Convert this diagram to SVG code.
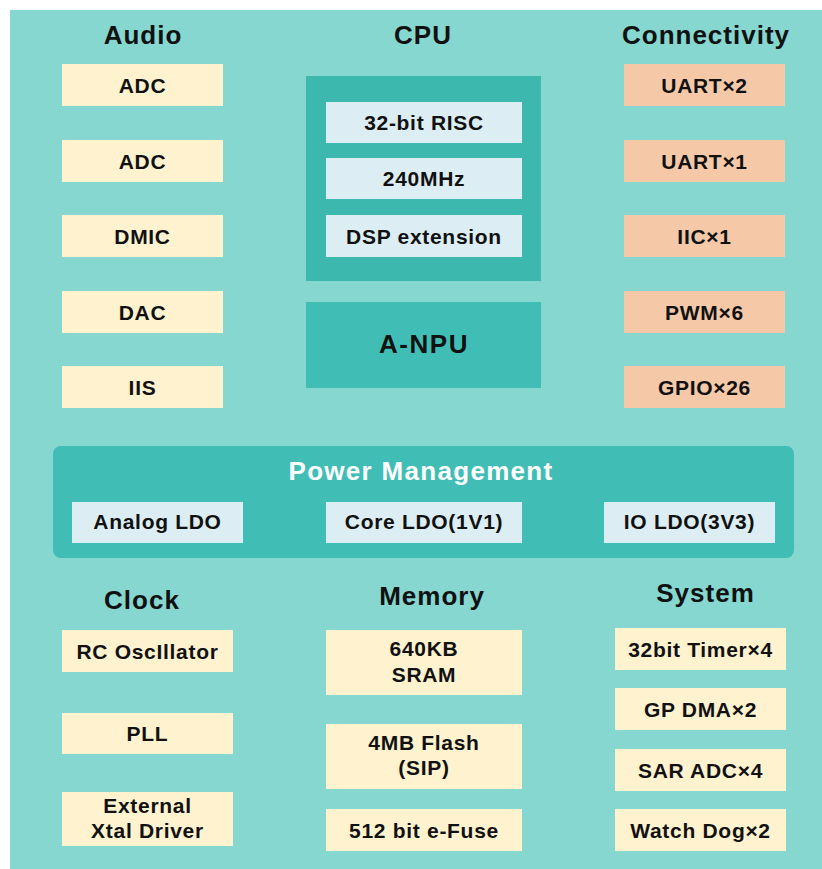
<svg xmlns="http://www.w3.org/2000/svg" width="822" height="869" viewBox="0 0 822 869">
<style>
text{font-family:"Liberation Sans",Arial,sans-serif;font-weight:bold;text-anchor:middle;fill:#111}
.t{font-size:26px;letter-spacing:1px}
.l{font-size:21px;letter-spacing:0.7px}
.y{fill:#FFF2CF}
.o{fill:#F5C9A8}
.b{fill:#DCEEF4}
</style>
<rect x="0" y="0" width="822" height="869" fill="#FFFFFF"/>
<rect x="10" y="10" width="812" height="859" fill="#85D7D0"/>
<g id="connectors"/>
<g id="audio">
<text class="t" x="143" y="44">Audio</text>
<rect class="y" x="62" y="64" width="161" height="42"/><text class="l" x="142.5" y="92.5">ADC</text>
<rect class="y" x="62" y="140" width="161" height="42"/><text class="l" x="142.5" y="168.5">ADC</text>
<rect class="y" x="62" y="215" width="161" height="42"/><text class="l" x="142.5" y="243.5">DMIC</text>
<rect class="y" x="62" y="291" width="161" height="42"/><text class="l" x="142.5" y="319.5">DAC</text>
<rect class="y" x="62" y="366" width="161" height="42"/><text class="l" x="142.5" y="394.5">IIS</text>
</g>
<g id="cpu">
<text class="t" x="423" y="44">CPU</text>
<rect x="306" y="76" width="235" height="205" fill="#3CB8AE"/>
<rect class="b" x="326" y="102" width="196" height="41"/><text class="l" x="424" y="130">32-bit RISC</text>
<rect class="b" x="326" y="158" width="196" height="41"/><text class="l" x="424" y="186">240MHz</text>
<rect class="b" x="326" y="215" width="196" height="42"/><text class="l" x="424" y="243.5">DSP extension</text>
</g>
<g id="anpu">
<rect x="306" y="302" width="235" height="86" fill="#40BEB5"/>
<text style="font-size:26px;letter-spacing:1.5px" x="424" y="353">A-NPU</text>
</g>
<g id="connectivity">
<text class="t" x="706" y="44">Connectivity</text>
<rect class="o" x="624" y="64" width="161" height="42"/><text class="l" x="704.5" y="92.5">UART×2</text>
<rect class="o" x="624" y="140" width="161" height="42"/><text class="l" x="704.5" y="168.5">UART×1</text>
<rect class="o" x="624" y="215" width="161" height="42"/><text class="l" x="704.5" y="243.5">IIC×1</text>
<rect class="o" x="624" y="291" width="161" height="42"/><text class="l" x="704.5" y="319.5">PWM×6</text>
<rect class="o" x="624" y="366" width="161" height="42"/><text class="l" x="704.5" y="394.5">GPIO×26</text>
</g>
<g id="power">
<rect x="53" y="446" width="741" height="112" rx="8" fill="#40BEB6"/>
<text style="font-size:26px;letter-spacing:1.3px;fill:#FFFFFF" x="421" y="480">Power Management</text>
<rect class="b" x="72" y="502" width="171" height="41"/><text class="l" x="157.5" y="529">Analog LDO</text>
<rect class="b" x="326" y="502" width="196" height="41"/><text class="l" x="424" y="529">Core LDO(1V1)</text>
<rect class="b" x="604" y="502" width="171" height="41"/><text class="l" x="689.5" y="529">IO LDO(3V3)</text>
</g>
<g id="clock">
<text class="t" x="142" y="609">Clock</text>
<rect class="y" x="62" y="630" width="171" height="42"/><text class="l" x="147.5" y="658.5">RC OscIllator</text>
<rect class="y" x="62" y="713" width="171" height="41"/><text class="l" x="147.5" y="741">PLL</text>
<rect class="y" x="62" y="792" width="171" height="54"/><text class="l" x="147.5" y="813">External</text><text class="l" x="147.5" y="838">Xtal Driver</text>
</g>
<g id="memory">
<text class="t" x="432" y="605">Memory</text>
<rect class="y" x="326" y="630" width="196" height="65"/><text class="l" x="424" y="656">640KB</text><text class="l" x="424" y="682">SRAM</text>
<rect class="y" x="326" y="724" width="196" height="65"/><text class="l" x="424" y="750">4MB Flash</text><text class="l" x="424" y="775">(SIP)</text>
<rect class="y" x="326" y="809" width="196" height="42"/><text class="l" x="424" y="837.5">512 bit e-Fuse</text>
</g>
<g id="system">
<text class="t" x="705.5" y="602">System</text>
<rect class="y" x="615" y="628" width="171" height="42"/><text class="l" x="700.5" y="656.5">32bit Timer×4</text>
<rect class="y" x="615" y="688" width="171" height="42"/><text class="l" x="700.5" y="716.5">GP DMA×2</text>
<rect class="y" x="615" y="749" width="171" height="42"/><text class="l" x="700.5" y="777.5">SAR ADC×4</text>
<rect class="y" x="615" y="809" width="171" height="42"/><text class="l" x="700.5" y="837.5">Watch Dog×2</text>
</g>
</svg>
